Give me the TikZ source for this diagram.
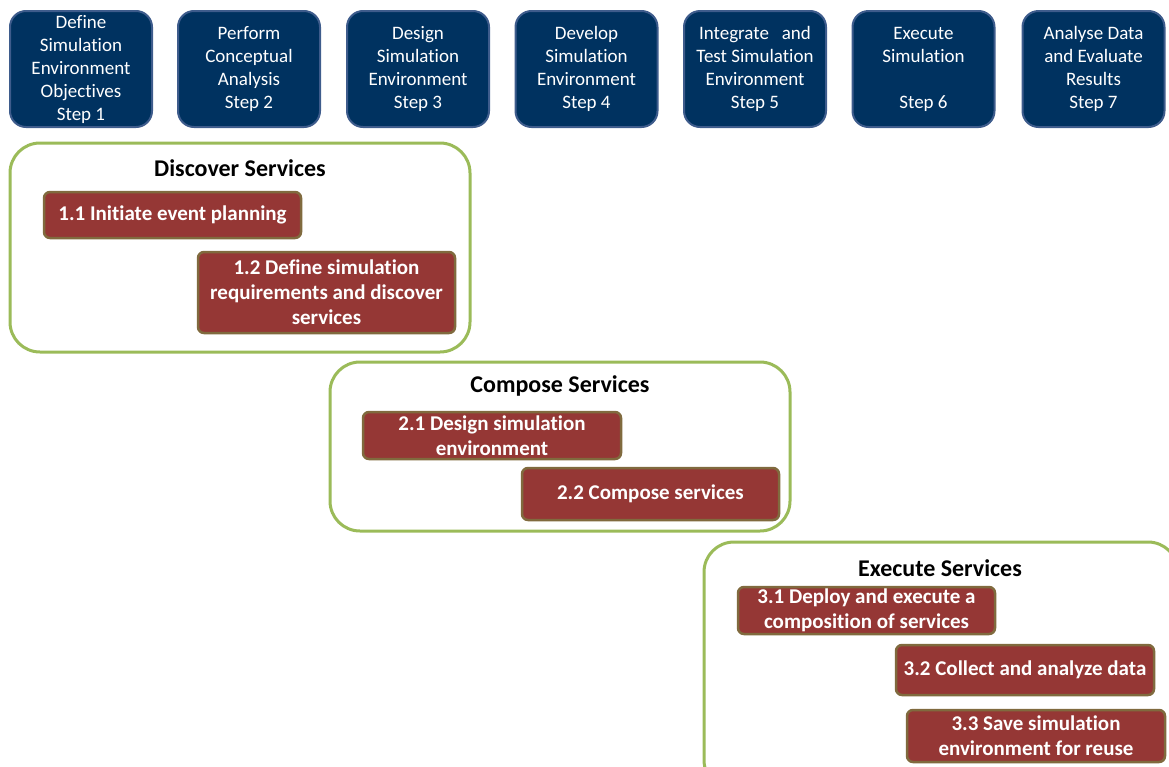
\documentclass[tikz,border=0pt]{standalone}
\usepackage{fontspec}
\setmainfont{Carlito}[Ligatures=NoCommon]
\definecolor{stepfill}{RGB}{0,50,96}
\definecolor{stepedge}{RGB}{62,92,140}
\definecolor{phaseedge}{RGB}{155,187,89}
\definecolor{taskfill}{RGB}{149,55,53}
\definecolor{taskedge}{RGB}{128,106,62}
\begin{document}
\begin{tikzpicture}[x=1pt,y=-1pt,
  stepbox/.style={draw=stepedge, line width=2pt, fill=stepfill, rounded corners=16pt,
    minimum width=142pt, minimum height=116pt, inner sep=0pt, text=white, align=center,
    font=\fontsize{19}{23}\selectfont},
  phase/.style={draw=phaseedge, line width=3pt, rounded corners=30pt, fill=white, inner sep=0pt},
  task/.style={draw=taskedge, line width=2.5pt, fill=taskfill, rounded corners=6pt,
    inner sep=0pt, text=white, align=center, minimum width=257pt,
    font=\bfseries\fontsize{21}{25}\selectfont},
  phasetitle/.style={font=\bfseries\fontsize{24}{25}\selectfont, inner sep=0pt}]
\useasboundingbox (0,0) rectangle (1169,766);
\clip (0,0) rectangle (1169,766);

% process steps
\node[stepbox] (s1) at (81,69) {Define\\Simulation\\Environment\\Objectives\\Step 1};
\node[stepbox] (s2) at (249,69) {Perform\\Conceptual\\Analysis\\Step 2};
\node[stepbox] (s3) at (418,69) {Design\\Simulation\\Environment\\Step 3};
\node[stepbox] (s4) at (586.5,69) {Develop\\Simulation\\Environment\\Step 4};
\node[stepbox] (s5) at (755,69) {Integrate\ \ \ and\\Test Simulation\\Environment\\Step 5};
\node[stepbox] (s6) at (923.5,69) {Execute\\Simulation\\\strut\\Step 6};
\node[stepbox] (s7) at (1093.5,69) {Analyse Data\\and Evaluate\\Results\\Step 7};

% phase frames
\node[phase, minimum width=460pt, minimum height=209pt] (discover) at (240,247.5) {};
\node[phase, minimum width=460pt, minimum height=169pt] (compose) at (560,446.5) {};
\node[phase, minimum width=474pt, minimum height=248pt] (execute) at (941,666) {};

\node[phasetitle] (discoverT) at (240,168) {Discover Services};
\node[phasetitle] (composeT) at (560,386) {Compose Services};
\node[phasetitle] (executeT) at (940,568) {Execute Services};

% activities
\node[task, minimum height=46pt] (t11) at (172.5,215) {1.1 Initiate event planning};
\node[task, minimum height=81pt] (t12) at (326.5,292.5) {1.2 Define simulation\\requirements and discover\\services};
\node[task, minimum width=258pt, minimum height=47pt] (t21) at (492,435.5) {2.1 Design simulation\\environment};
\node[task, minimum height=52pt] (t22) at (650.5,494) {2.2 Compose services};
\node[task, minimum height=47pt] (t31) at (866.5,610.5) {3.1 Deploy and execute a\\composition of services};
\node[task, minimum width=258pt, minimum height=50pt] (t32) at (1025,670) {3.2 Collect and analyze data};
\node[task, minimum width=258pt, minimum height=52pt] (t33) at (1036,736) {3.3 Save simulation\\environment for reuse};
\end{tikzpicture}
\end{document}
